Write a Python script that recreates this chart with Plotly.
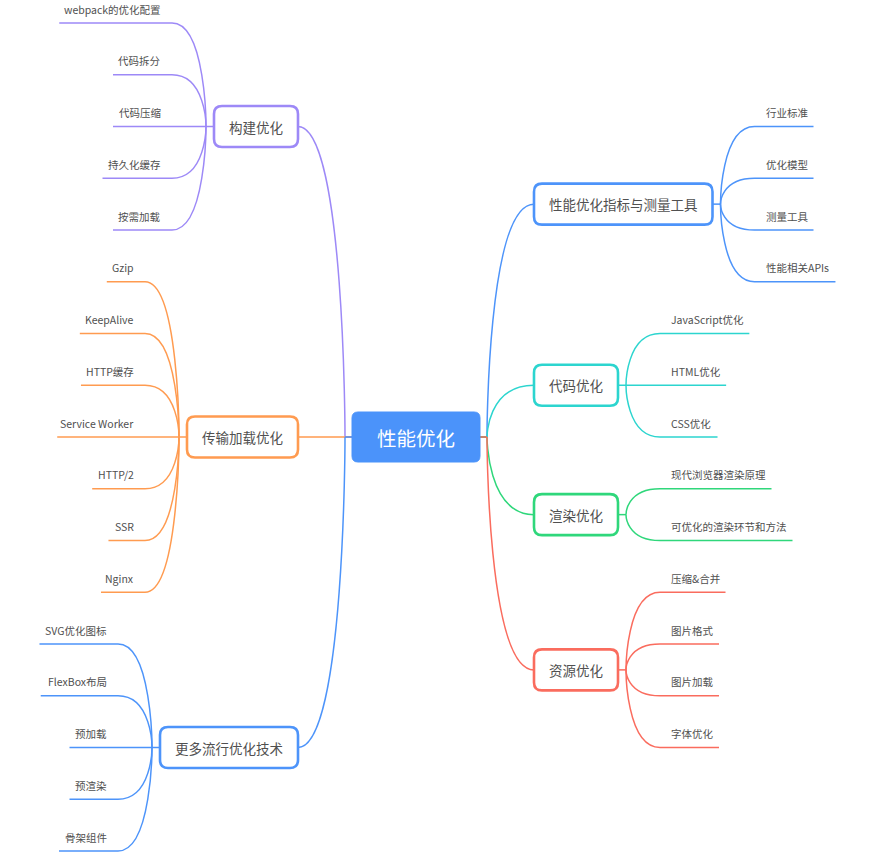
import plotly.graph_objects as go

# mind map content
root_label = "性能优化"

left_branches = ["构建优化", "传输加载优化", "更多流行优化技术"]
build_items = ["webpack的优化配置", "代码拆分", "代码压缩", "持久化缓存", "按需加载"]
transfer_items = ["Gzip", "KeepAlive", "HTTP缓存", "Service Worker", "HTTP/2", "SSR", "Nginx"]
more_items = ["SVG优化图标", "FlexBox布局", "预加载", "预渲染", "骨架组件"]

right_branches = ["性能优化指标与测量工具", "代码优化", "渲染优化", "资源优化"]
metrics_items = ["行业标准", "优化模型", "测量工具", "性能相关APIs"]
code_items = ["JavaScript优化", "HTML优化", "CSS优化"]
render_items = ["现代浏览器渲染原理", "可优化的渲染环节和方法"]
resource_items = ["压缩&合并", "图片格式", "图片加载", "字体优化"]

left_leaves = [build_items, transfer_items, more_items]
right_leaves = [metrics_items, code_items, render_items, resource_items]

left_colors = ["#9d89f7", "#ff9b50", "#4d94fa"]
right_colors = ["#4d94fa", "#2cd5cf", "#2fd77b", "#fa6c5e"]

FONT = "Microsoft YaHei, Noto Sans CJK SC, sans-serif"
TEXT_COLOR = "#505050"
ROOT_FILL = "#4b93fa"

W, H = 880, 866
ROW = 51.75          # vertical pitch between leaves
ROOT_X, ROOT_Y = 416, 437
LEAF_FS, BRANCH_FS, ROOT_FS = 10.5, 13.5, 19.5


def text_width(s, fs):
    w = 0
    for ch in s:
        if ord(ch) > 0x2e80:
            w += 1.0
        elif ch in "iljftrI":
            w += 0.3
        elif ch in "mwMW":
            w += 0.82
        elif ch == " ":
            w += 0.25
        elif ch == "/":
            w += 0.38
        elif ch.isupper() or ch == "&":
            w += 0.62
        else:
            w += 0.55
    return w * fs


def rrect(x0, y0, x1, y1, r):
    return (f"M{x0+r},{y0} L{x1-r},{y0} Q{x1},{y0} {x1},{y0+r} L{x1},{y1-r} "
            f"Q{x1},{y1} {x1-r},{y1} L{x0+r},{y1} Q{x0},{y1} {x0},{y1-r} "
            f"L{x0},{y0+r} Q{x0},{y0} {x0+r},{y0} Z")


fig = go.Figure()
lines, boxes, notes = [], [], []

root_w = text_width(root_label, ROOT_FS) + 50
root_h = 50
rx0, rx1 = ROOT_X - root_w / 2, ROOT_X + root_w / 2


def add_side(branches, leaves, colors, side):
    n = sum(len(l) for l in leaves)
    y = ROOT_Y - (n - 1) * ROW / 2
    root_edge = rx0 if side < 0 else rx1
    root_j = root_edge + 7 * side
    for label, items, col in zip(branches, leaves, colors):
        ys = [y + i * ROW for i in range(len(items))]
        y += len(items) * ROW
        yb = sum(ys) / len(ys)
        bw = text_width(label, BRANCH_FS) + 30
        inner = root_j + 47 * side           # box edge facing the root
        outer = inner + bw * side            # box edge facing the leaves
        bx0, bx1 = min(inner, outer), max(inner, outer)
        lines.append(dict(type="path",
                          path=f"M{root_edge},{ROOT_Y} L{root_j},{ROOT_Y} "
                               f"M{inner},{yb} C{root_j},{yb} {root_j},{ROOT_Y} {root_j},{ROOT_Y}",
                          line=dict(color=col, width=1.5)))
        bj = outer + 8 * side
        lines.append(dict(type="path", path=f"M{outer},{yb} L{bj},{yb}",
                          line=dict(color=col, width=1.5)))
        xl = bj + 34 * side
        tx = xl + 9 * side
        for it, yl in zip(items, ys):
            tw = text_width(it, LEAF_FS)
            xend = tx + (tw + 8) * side
            lines.append(dict(type="path",
                              path=f"M{xend},{yl} L{xl},{yl} C{bj},{yl} {bj},{yb} {bj},{yb}",
                              line=dict(color=col, width=1.5)))
            notes.append(dict(x=tx, y=yl - 14, text=it, showarrow=False,
                              xanchor="left" if side > 0 else "right", yanchor="middle",
                              font=dict(size=LEAF_FS, color=TEXT_COLOR, family=FONT)))
        boxes.append(dict(type="path", path=rrect(bx0, yb - 20.5, bx1, yb + 20.5, 8),
                          fillcolor="white", line=dict(color=col, width=2.6)))
        notes.append(dict(x=(bx0 + bx1) / 2, y=yb, text=label, showarrow=False,
                          xanchor="center", yanchor="middle",
                          font=dict(size=BRANCH_FS, color=TEXT_COLOR, family=FONT)))


add_side(left_branches, left_leaves, left_colors, -1)
add_side(right_branches, right_leaves, right_colors, 1)

boxes.append(dict(type="path",
                  path=rrect(rx0, ROOT_Y - root_h / 2, rx1, ROOT_Y + root_h / 2, 6),
                  fillcolor=ROOT_FILL, line=dict(color=ROOT_FILL, width=1)))
notes.append(dict(x=ROOT_X, y=ROOT_Y, text=root_label, showarrow=False,
                  xanchor="center", yanchor="middle",
                  font=dict(size=ROOT_FS, color="white", family=FONT)))

for s in lines + boxes:
    s.update(xref="x", yref="y", layer="above")

fig.add_trace(go.Scatter(x=[], y=[], showlegend=False))
fig.update_layout(
    width=W, height=H,
    margin=dict(l=0, r=0, t=0, b=0),
    paper_bgcolor="white", plot_bgcolor="white",
    xaxis=dict(range=[0, W], visible=False, fixedrange=True),
    yaxis=dict(range=[H, 0], visible=False, fixedrange=True),
    shapes=lines + boxes,
    annotations=notes,
    showlegend=False,
)
# drop the browser's default body margin so the map sits at the page corner
fig.write_html("out.html", config={"displayModeBar": False},
               post_script="document.body.style.margin='0';document.body.style.overflow='hidden';")
